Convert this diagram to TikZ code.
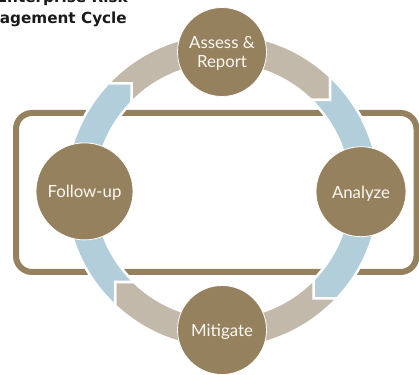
\documentclass[tikz,border=0pt]{standalone}
\usepackage{fontspec}
\setmainfont{Lato}
\newfontfamily\titlefont{DejaVu Sans}
\definecolor{brownc}{HTML}{96815F}
\definecolor{beigec}{HTML}{C3B9AB}
\definecolor{bluec}{HTML}{B3CEDB}
\definecolor{labelc}{HTML}{FBF8F2}
\definecolor{titlec}{HTML}{1A1A1A}
\tikzset{
  stage/.style={circle, fill=brownc, draw=white, line width=0.8pt, inner sep=0pt},
  lbl/.style={text=labelc, font=\fontsize{16.8}{19}\selectfont, align=center, inner sep=0pt},
  band/.style={draw=white, line width=2.5pt, line join=miter},
  frame/.style={draw=brownc, line width=6pt, rounded corners=16pt},
  ttl/.style={text=titlec, font=\titlefont\bfseries\fontsize{15.25}{19}\selectfont, inner sep=0pt, anchor=base east}
}
\begin{document}
\begin{tikzpicture}[x=1pt,y=1pt]
\useasboundingbox (0,0) rectangle (419,374);
\clip (0,0) rectangle (419,374);
% title
\node[ttl] (t1) at (128,371.3) {Enterprise Risk};
\node[ttl] (t2) at (127,350.7) {Management Cycle};
% frame
\draw[frame] (16,261) rectangle (416.5,102);
% ring
\begin{scope}[shift={(222.5,183)}]
  \filldraw[band, fill=beigec] (-114.42,107.5) -- (-91,107.5) -- (-91,88.59)
    arc[start angle=135.77, end angle=45.77, radius=127pt] -- (107.5,91) -- (107.5,114.42)
    arc[start angle=46.78, end angle=136.78, radius=157pt] -- cycle;
  \filldraw[band, fill=bluec] (107.5,114.42) -- (107.5,91) -- (88.59,91)
    arc[start angle=45.77, end angle=-44.23, radius=127pt] -- (91,-107.5) -- (114.42,-107.5)
    arc[start angle=-43.22, end angle=46.78, radius=157pt] -- cycle;
  \filldraw[band, fill=beigec] (114.42,-107.5) -- (91,-107.5) -- (91,-88.59)
    arc[start angle=-44.23, end angle=-134.23, radius=127pt] -- (-107.5,-91) -- (-107.5,-114.42)
    arc[start angle=-133.22, end angle=-43.22, radius=157pt] -- cycle;
  \filldraw[band, fill=bluec] (-107.5,-114.42) -- (-107.5,-91) -- (-88.59,-91)
    arc[start angle=225.77, end angle=135.77, radius=127pt] -- (-91,107.5) -- (-114.42,107.5)
    arc[start angle=136.78, end angle=226.78, radius=157pt] -- cycle;
\end{scope}
% stages
\node[stage, minimum size=89pt] (assess) at (222,322) {};
\node[stage, minimum size=90pt] (analyze) at (361,182.3) {};
\node[stage, minimum size=89pt] (mitigate) at (222,44) {};
\node[stage, minimum size=97pt] (follow) at (84.5,182.6) {};
\node[lbl, anchor=center] (assesst) at ([yshift=-1pt]assess.center) {Assess \&\\Report};
\node[lbl, anchor=base] (analyzet) at ([yshift=-6.5pt]analyze.center) {Analyze};
\node[lbl, anchor=base] (mitigatet) at ([yshift=-6.5pt]mitigate.center) {Mitigate};
\node[lbl, anchor=base] (followt) at ([yshift=-6.5pt]follow.center) {Follow-up};
\end{tikzpicture}
\end{document}
